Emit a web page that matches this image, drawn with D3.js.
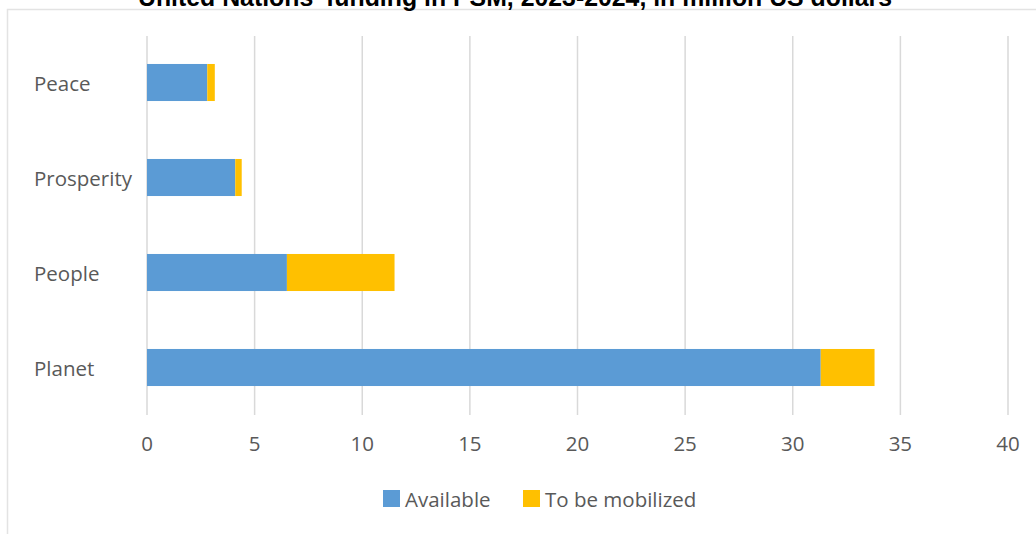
<!DOCTYPE html>
<html><head><meta charset="utf-8">
<script src="https://cdn.jsdelivr.net/npm/d3@7"></script>
<style>body{margin:0;background:#fff}svg{display:block}</style>
</head><body><svg id="c" width="1036" height="534"></svg>
<script>
const categories = ["Peace", "Prosperity", "People", "Planet"];
const available = [2.8, 4.1, 6.5, 31.3];
const mobilized = [0.35, 0.3, 5.0, 2.5];
const seriesNames = ["Available", "To be mobilized"];
const ticks = [0, 5, 10, 15, 20, 25, 30, 35, 40];
const title = "United Nations' funding in PSM, 2023-2024, in million US dollars";

const colors = ["#5B9BD5", "#FFC000"];
const font = "'Open Sans', sans-serif";
const fs = 20.5;
const svg = d3.select("#c");

// chart border
svg.append("path").attr("d", "M7.5,534 V9.5 H1036").attr("fill","none").attr("stroke","#e3e3e3").attr("stroke-width",1.5);

svg.append("text").attr("x", 515).attr("y", 6).attr("text-anchor","middle")
  .attr("font-family","'Liberation Sans', sans-serif").attr("font-weight","bold").attr("font-size",25)
  .attr("textLength", 754).attr("lengthAdjust","spacingAndGlyphs")
  .attr("fill","#000").text(title);

const x = d3.scaleLinear().domain([0, 40]).range([147, 1008]);
const y = d3.scaleBand().domain(categories).range([35, 415]).paddingInner(0.61).paddingOuter(0.305);

// gridlines
svg.append("g").selectAll("line").data(ticks).join("line")
  .attr("x1", d => x(d)).attr("x2", d => x(d)).attr("y1", 36).attr("y2", 415)
  .attr("stroke", "#d9d9d9").attr("stroke-width", 1.5);

// x tick labels
svg.append("g").selectAll("text").data(ticks).join("text")
  .attr("x", d => x(d)).attr("y", 451).attr("text-anchor","middle")
  .attr("font-family", font).attr("font-size", fs).attr("fill","#595959").text(d => d);

// category labels
svg.append("g").selectAll("text").data(categories).join("text")
  .attr("x", 34).attr("y", d => y(d) + y.bandwidth()/2 + 8)
  .attr("font-family", font).attr("font-size", fs).attr("fill","#595959").text(d => d);

const stackData = categories.map((c,i) => ({cat:c, a:available[i], m:mobilized[i]}));
const stack = d3.stack().keys(["a","m"])(stackData);
svg.append("g").selectAll("g").data(stack).join("g").attr("fill", (d,i) => colors[i])
  .selectAll("rect").data(d => d).join("rect")
  .attr("x", d => x(d[0])).attr("width", d => x(d[1]) - x(d[0]))
  .attr("y", d => y(d.data.cat)).attr("height", y.bandwidth());

// legend
const legX = [383, 523];
const lg = svg.append("g");
seriesNames.forEach((n,i) => {
  lg.append("rect").attr("x", legX[i]).attr("y", 490).attr("width", 17).attr("height", 17).attr("fill", colors[i]);
  lg.append("text").attr("x", legX[i] + 22).attr("y", 507).attr("font-family", font).attr("font-size", fs)
    .attr("fill","#595959").text(n);
});
</script></body></html>
